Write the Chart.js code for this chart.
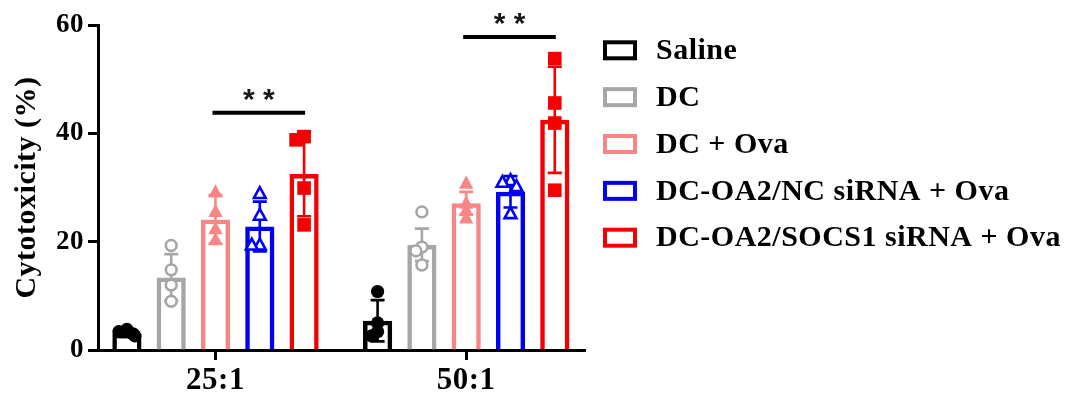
<!DOCTYPE html>
<html>
<head>
<meta charset="utf-8">
<script src="https://cdn.jsdelivr.net/npm/chart.js@4.4.1/dist/chart.umd.min.js"></script>
<style>
  html, body { margin: 0; padding: 0; background: #fff; }
  #wrap { width: 1073px; height: 401px; position: relative; }
</style>
</head>
<body>
<div id="wrap"><canvas id="chart"></canvas></div>
<script>
// Effector : target ratios
const ratios = ['25:1', '50:1'];
const groupNames = ['Saline', 'DC', 'DC + Ova', 'DC-OA2/NC siRNA + Ova', 'DC-OA2/SOCS1 siRNA + Ova'];

// Mean cytotoxicity (%) at 25:1 and 50:1
const salineMean = [3.0, 5.4];
const dcMean = [13.4, 19.4];
const dcOvaMean = [24.1, 27.1];
const ncMean = [22.8, 29.2];
const socs1Mean = [32.5, 42.5];

// Standard deviations
const salineSd = [0.6, 3.8];
const dcSd = [4.3, 3.0];
const dcOvaSd = [4.5, 2.1];
const ncSd = [4.6, 2.9];
const socs1Sd = [7.8, 9.8];

// Individual replicates
const salineDots = [[3.8, 3.4, 3.0, 2.6], [10.8, 5.0, 3.4, 2.6]];
const dcDots = [[19.3, 14.8, 12.0, 9.0], [25.5, 19.0, 18.3, 15.7]];
const dcOvaDots = [[29.2, 25.6, 22.4, 20.4], [30.8, 27.1, 25.8, 24.4]];
const ncDots = [[28.9, 24.9, 19.4, 19.4], [31.3, 31.0, 30.2, 25.2]];
const socs1Dots = [[39.4, 38.8, 29.9, 23.1], [53.8, 45.6, 41.9, 29.5]];

const yTicks = [0, 20, 40, 60];

// DC + Ova vs DC-OA2/SOCS1 siRNA + Ova
const sigLevel = [43.8, 57.8];
const sigText = ['**', '**'];

const means = [salineMean, dcMean, dcOvaMean, ncMean, socs1Mean];
const sds = [salineSd, dcSd, dcOvaSd, ncSd, socs1Sd];
const dots = [salineDots, dcDots, dcOvaDots, ncDots, socs1Dots];

const looks = [
  { color: '#000000', marker: 'circle',   filled: true  },
  { color: '#a6a6a6', marker: 'circle',   filled: false },
  { color: '#f98686', marker: 'triangle', filled: true  },
  { color: '#0000f4', marker: 'triangle', filled: false },
  { color: '#f40000', marker: 'square',   filled: true  }
];

Chart.defaults.font.family = "'Liberation Serif', 'Times New Roman', serif";
Chart.defaults.font.weight = 'bold';
Chart.defaults.color = '#000';

function drawMarker(ctx, kind, x, y, color, filled) {
  ctx.save();
  ctx.lineWidth = 2.6;
  ctx.strokeStyle = color;
  ctx.fillStyle = filled ? color : '#ffffff';
  ctx.beginPath();
  if (kind === 'circle') {
    ctx.arc(x, y, filled ? 6.6 : 5.4, 0, Math.PI * 2);
  } else if (kind === 'triangle') {
    const h = filled ? 1 : 0.82;
    ctx.moveTo(x, y - 7.6 * h);
    ctx.lineTo(x - 7.2 * h, y + 5.6 * h);
    ctx.lineTo(x + 7.2 * h, y + 5.6 * h);
    ctx.closePath();
  } else {
    ctx.rect(x - 6.8, y - 6.8, 13.6, 13.6);
  }
  ctx.fill();
  if (!filled) ctx.stroke();
  ctx.restore();
}

// Error bars (mean ± SD) and replicate points on top of each bar
const errorAndDots = {
  id: 'errorAndDots',
  afterDatasetsDraw(chart) {
    const ctx = chart.ctx;
    const yScale = chart.scales.y;
    chart.data.datasets.forEach((ds, i) => {
      const meta = chart.getDatasetMeta(i);
      meta.data.forEach((bar, j) => {
        const m = means[i][j], sd = sds[i][j];
        const x = bar.x;
        const yTop = yScale.getPixelForValue(m + sd);
        const yBot = yScale.getPixelForValue(Math.max(m - sd, 0));
        ctx.save();
        ctx.strokeStyle = looks[i].color;
        ctx.lineWidth = 2.6;
        ctx.beginPath();
        ctx.moveTo(x, yTop); ctx.lineTo(x, yBot);
        ctx.moveTo(x - 7, yTop); ctx.lineTo(x + 7, yTop);
        ctx.moveTo(x - 7, yBot); ctx.lineTo(x + 7, yBot);
        ctx.stroke();
        ctx.restore();

        // nudge overlapping replicates sideways a little
        const placed = [];
        dots[i][j].forEach(v => {
          const py = yScale.getPixelForValue(v);
          const candidates = [0, -6, 6, -8, 8];
          let off = candidates[candidates.length - 1];
          for (const c of candidates) {
            if (placed.every(p => Math.hypot(p.x - c, p.y - py) >= 7)) { off = c; break; }
          }
          placed.push({ x: off, y: py });
          drawMarker(ctx, looks[i].marker, x + off, py, looks[i].color, looks[i].filled);
        });
      });
    });

    // significance bars
    const a = chart.getDatasetMeta(2), b = chart.getDatasetMeta(4);
    ratios.forEach((_, j) => {
      const x1 = a.data[j].x - 3, x2 = b.data[j].x + 1;
      const yy = yScale.getPixelForValue(sigLevel[j]);
      ctx.save();
      ctx.strokeStyle = '#000';
      ctx.lineWidth = 4;
      ctx.beginPath();
      ctx.moveTo(x1, yy); ctx.lineTo(x2, yy);
      ctx.stroke();
      ctx.fillStyle = '#1a1a1a';
      ctx.font = "bold 30px 'Liberation Sans', Arial, sans-serif";
      ctx.letterSpacing = '0px';
      ctx.textAlign = 'center';
      ctx.textBaseline = 'alphabetic';
      ctx.fillText(sigText[j].split('').join(' '), (x1 + x2) / 2, yy - 4);
      ctx.restore();
    });
  }
};

// Legend on the right: outlined swatch + bold label
const sideLegend = {
  id: 'sideLegend',
  afterDraw(chart) {
    const ctx = chart.ctx;
    const left = 603, boxW = 34, boxH = 20, textX = 656, top = 50.3, step = 46.85;
    ctx.save();
    ctx.font = "bold 30px 'Liberation Serif', 'Times New Roman', serif";
    ctx.letterSpacing = '0.5px';
    ctx.textAlign = 'left';
    ctx.textBaseline = 'middle';
    ctx.fillStyle = '#000';
    chart.data.datasets.forEach((ds, i) => {
      const cy = top + i * step;
      ctx.lineWidth = 4;
      ctx.strokeStyle = looks[i].color;
      ctx.strokeRect(left + 2, cy - boxH / 2 + 2, boxW - 4, boxH - 4);
      ctx.fillText(ds.label, textX, cy + 1);
    });
    ctx.restore();
  }
};

const textSpacing = {
  id: 'textSpacing',
  beforeDraw(chart) { chart.ctx.letterSpacing = '0.5px'; }
};

const datasets = groupNames.map((name, i) => ({
  label: name,
  data: means[i].map((v, k) => ({ x: k, y: v })),
  borderColor: looks[i].color,
  backgroundColor: 'rgba(255,255,255,0)',
  borderWidth: 4.5,
  categoryPercentage: 0.8835,
  barPercentage: 0.659
}));

const axisGrid = {
  display: true,
  offset: false,
  drawOnChartArea: false,
  drawTicks: true,
  tickLength: 10,
  tickWidth: 3,
  tickColor: '#000'
};

new Chart(document.getElementById('chart'), {
  type: 'bar',
  data: { datasets },
  plugins: [textSpacing, errorAndDots, sideLegend],
  options: {
    responsive: true,
    maintainAspectRatio: false,
    animation: false,
    events: [],
    layout: { padding: { left: 9, top: 25, right: 488, bottom: 0 } },
    plugins: { legend: { display: false }, tooltip: { enabled: false } },
    scales: {
      x: {
        type: 'linear',
        offset: false,
        min: -0.4687,
        max: 1.4739,
        afterBuildTicks: s => { s.ticks = ratios.map((_, i) => ({ value: i })); },
        afterFit: s => { s.height = 51; },
        ticks: {
          callback: v => ratios[v],
          font: { size: 31, weight: 'bold' },
          color: '#000',
          padding: 2,
          maxRotation: 0,
          autoSkip: false
        },
        grid: axisGrid,
        border: { display: true, color: '#000', width: 3 }
      },
      y: {
        min: 0,
        max: 60,
        afterBuildTicks: s => { s.ticks = yTicks.map(v => ({ value: v })); },
        afterFit: s => { s.width = 89; },
        ticks: { font: { size: 27, weight: 'bold' }, color: '#000', padding: 4 },
        grid: axisGrid,
        border: { display: true, color: '#000', width: 3 },
        title: {
          display: true,
          text: 'Cytotoxicity (%)',
          font: { size: 30, weight: 'bold' },
          color: '#000',
          padding: 0
        }
      }
    }
  }
});
</script>
</body>
</html>
